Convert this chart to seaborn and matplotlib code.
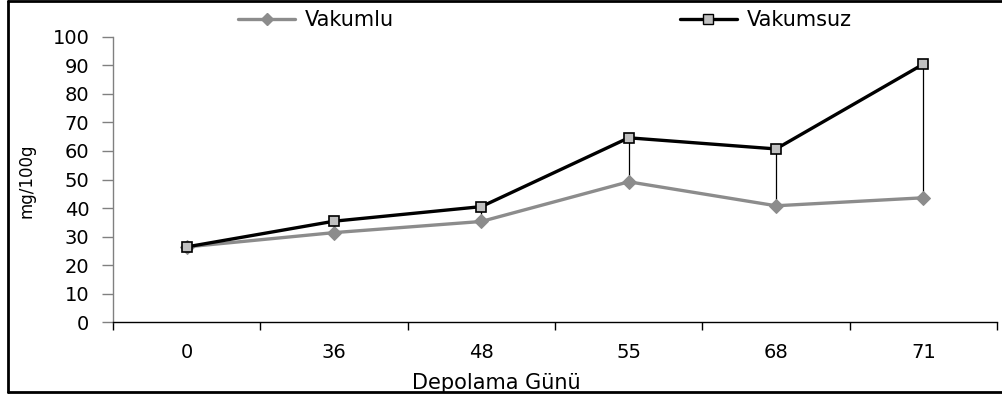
import matplotlib
matplotlib.use("Agg")
import matplotlib.pyplot as plt
from matplotlib.lines import Line2D
import seaborn as sns
import pandas as pd

# Storage days and measured values (mg/100g)
days = ["0", "36", "48", "55", "68", "71"]
vakumlu = [26.4, 31.4, 35.3, 49.2, 40.8, 43.6]
vakumsuz = [26.4, 35.4, 40.5, 64.6, 60.7, 90.4]
y_ticks = [0, 10, 20, 30, 40, 50, 60, 70, 80, 90, 100]

sns.set_style("white")
plt.rcParams["font.family"] = ["DejaVu Sans"]
plt.rcParams["text.color"] = "black"
plt.rcParams["xtick.labelcolor"] = "black"
plt.rcParams["ytick.labelcolor"] = "black"

df = pd.DataFrame({"gun": days, "Vakumlu": vakumlu, "Vakumsuz": vakumsuz})

fig = plt.figure(figsize=(10.03, 3.96), dpi=100)
ax = fig.add_axes([113 / 1003, 1 - 322.3 / 396, (997 - 113) / 1003, (322.3 - 36.7) / 396])

# High-low connectors between the two series
ax.vlines(range(len(days)), df["Vakumlu"], df["Vakumsuz"], color="black", lw=0.9, zorder=1)

sns.lineplot(data=df, x="gun", y="Vakumlu", ax=ax, color="#8c8c8c", lw=2.4,
             marker="D", markersize=7.5, markerfacecolor="#8c8c8c",
             markeredgecolor="#8c8c8c", zorder=2, sort=False)
sns.lineplot(data=df, x="gun", y="Vakumsuz", ax=ax, color="black", lw=2.4,
             marker="s", markersize=7.5, markerfacecolor="#c0c0c0",
             markeredgecolor="black", markeredgewidth=1.2, zorder=3, sort=False)

ax.set_xlim(-0.5, len(days) - 0.5)
ax.set_ylim(0, 100)
ax.set_yticks(y_ticks)
ax.set_yticklabels([str(t) for t in y_ticks], fontsize=14)

# Category labels at centres, tick marks at category boundaries
ax.set_xticks([i - 0.5 for i in range(len(days) + 1)])
ax.set_xticklabels([])
ax.set_xticks(range(len(days)), minor=True)
ax.set_xticklabels(days, minor=True, fontsize=14)
ax.tick_params(axis="x", which="major", direction="out", length=6, width=1, color="black", bottom=True)
ax.tick_params(axis="x", which="minor", length=0, pad=15)
ax.tick_params(axis="y", direction="out", length=8, width=1, color="#808080", left=True, pad=9)

for s in ["top", "right"]:
    ax.spines[s].set_visible(False)
ax.spines["left"].set_color("#808080")
ax.spines["left"].set_linewidth(1)
ax.spines["bottom"].set_color("black")
ax.spines["bottom"].set_linewidth(1)

ax.set_xlabel("")
ax.set_ylabel("")
fig.text(496 / 1003, 1 - 383 / 396, "Depolama Günü", ha="center", va="center", fontsize=15)
fig.text(27 / 1003, 1 - 181 / 396, "mg/100g", ha="center", va="center", rotation=90, fontsize=12)

handles = [
    Line2D([], [], color="#8c8c8c", lw=2.4, marker="D", markersize=6,
           markerfacecolor="#8c8c8c", markeredgecolor="#8c8c8c"),
    Line2D([], [], color="black", lw=2.4, marker="s", markersize=7,
           markerfacecolor="#c0c0c0", markeredgecolor="black"),
]
fig.legend(handles, ["Vakumlu", "Vakumsuz"], loc="center left",
           bbox_to_anchor=(238 / 1003, 1 - 20 / 396),
           ncol=2, frameon=False, fontsize=15, handlelength=2.75, handletextpad=0.48,
           columnspacing=13.7, borderpad=0, borderaxespad=0)

# Outer frame lines
fig.add_artist(Line2D([8 / 1003, 8 / 1003], [1 - 392 / 396, 1 - 1 / 396], color="black", lw=2,
                      transform=fig.transFigure))
fig.add_artist(Line2D([8 / 1003, 1.0], [1 - 1 / 396, 1 - 1 / 396], color="black", lw=2,
                      transform=fig.transFigure))
fig.add_artist(Line2D([8 / 1003, 1.0], [1 - 392 / 396, 1 - 392 / 396], color="black", lw=2,
                      transform=fig.transFigure))

fig.savefig("out.png", dpi=100)
